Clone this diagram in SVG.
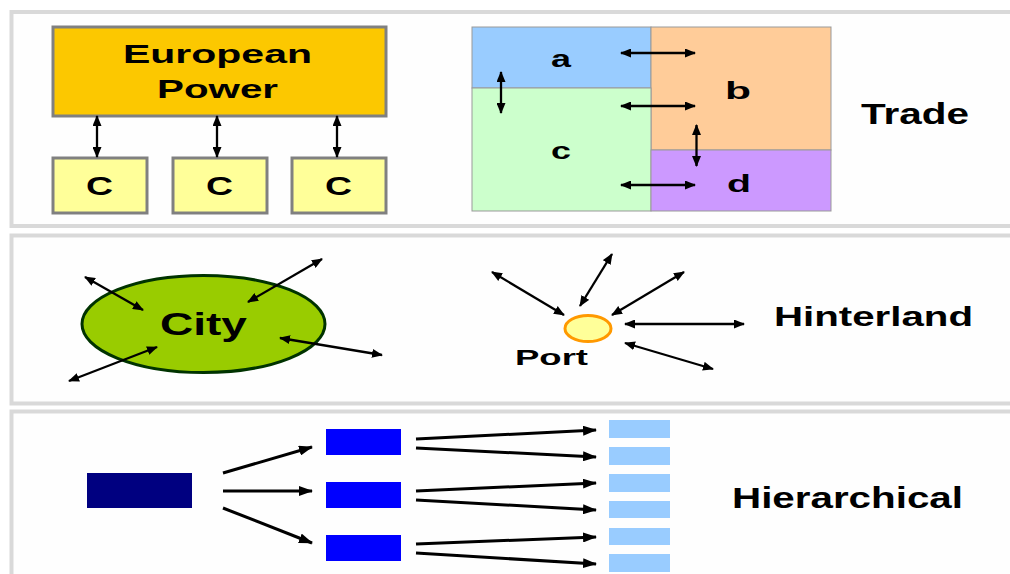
<svg xmlns="http://www.w3.org/2000/svg" width="1010" height="574" viewBox="0 0 1010 574">
<style>
.panel{fill:#fefefe;stroke:#d9d9d9;stroke-width:4}
.t{font-family:"Liberation Sans",Arial,sans-serif;font-weight:bold;fill:#000}
.box{stroke:#808080;stroke-width:3}
.cell{stroke:#999;stroke-width:1}
.dbl{stroke:#000;stroke-width:2.3;fill:none;marker-start:url(#ah);marker-end:url(#ah)}
.one{stroke:#000;stroke-width:3;fill:none;marker-end:url(#ah2)}
</style>
<defs>
<marker id="ah" viewBox="0 0 11 9" refX="10" refY="4.5" markerWidth="11" markerHeight="9" markerUnits="userSpaceOnUse" orient="auto-start-reverse"><path d="M0,0 L11,4.5 L0,9 z" fill="#000"/></marker>
<marker id="ah2" viewBox="0 0 14 10" refX="13" refY="5" markerWidth="14" markerHeight="10" markerUnits="userSpaceOnUse" orient="auto"><path d="M0,0 L14,5 L0,10 z" fill="#000"/></marker>
</defs>
<rect width="1010" height="574" fill="#fff"/>
<g id="panels">
<rect class="panel" x="11.5" y="12" width="1010" height="214"/>
<rect class="panel" x="11.5" y="235.5" width="1010" height="168"/>
<rect class="panel" x="11.5" y="411.5" width="1010" height="200"/>
</g>
<g id="european-power">
<rect class="box" x="53" y="27" width="333" height="89" fill="#fcc800"/>
<text class="t" x="123" y="63" font-size="26" textLength="189" lengthAdjust="spacingAndGlyphs">European</text>
<text class="t" x="157" y="98" font-size="26" textLength="121" lengthAdjust="spacingAndGlyphs">Power</text>
</g>
<g id="c1"><rect class="box" x="53" y="158" width="94" height="55" fill="#ffff99"/><text class="t" x="86" y="195" font-size="25" textLength="27" lengthAdjust="spacingAndGlyphs">C</text></g>
<g id="c2"><rect class="box" x="173" y="158" width="94" height="55" fill="#ffff99"/><text class="t" x="206" y="195" font-size="25" textLength="27" lengthAdjust="spacingAndGlyphs">C</text></g>
<g id="c3"><rect class="box" x="292" y="158" width="94" height="55" fill="#ffff99"/><text class="t" x="325" y="195" font-size="25" textLength="27" lengthAdjust="spacingAndGlyphs">C</text></g>
<g id="cell-a"><rect class="cell" x="472" y="27" width="179" height="61" fill="#99ccff"/><text class="t" x="551" y="67" font-size="24" textLength="20" lengthAdjust="spacingAndGlyphs">a</text></g>
<g id="cell-b"><rect class="cell" x="651" y="27" width="180" height="123" fill="#ffcc99"/><text class="t" x="725" y="99" font-size="24" textLength="26" lengthAdjust="spacingAndGlyphs">b</text></g>
<g id="cell-c"><rect class="cell" x="472" y="88" width="179" height="123" fill="#ccffcc"/><text class="t" x="551" y="159" font-size="24" textLength="20" lengthAdjust="spacingAndGlyphs">c</text></g>
<g id="cell-d"><rect class="cell" x="651" y="150" width="180" height="61" fill="#cc99ff"/><text class="t" x="727" y="192" font-size="24" textLength="24" lengthAdjust="spacingAndGlyphs">d</text></g>
<g id="trade-label"><text class="t" x="861" y="124" font-size="29" textLength="108" lengthAdjust="spacingAndGlyphs">Trade</text></g>
<g id="city">
<ellipse cx="203.5" cy="324" rx="121.5" ry="48.5" fill="#99cc00" stroke="#003300" stroke-width="3"/>
<text class="t" x="160" y="335" font-size="31" textLength="87" lengthAdjust="spacingAndGlyphs">City</text>
</g>
<g id="port">
<ellipse cx="588" cy="328.5" rx="23" ry="13" fill="#ffff99" stroke="#ff9900" stroke-width="3"/>
<text class="t" x="515" y="365" font-size="22" textLength="73" lengthAdjust="spacingAndGlyphs">Port</text>
</g>
<g id="hinterland-label"><text class="t" x="774" y="326" font-size="28" textLength="199" lengthAdjust="spacingAndGlyphs">Hinterland</text></g>
<g id="root"><rect x="87" y="473" width="105" height="35" fill="#000080"/></g>
<g id="mid1"><rect x="326" y="429" width="75" height="26" fill="#0000ff"/></g>
<g id="mid2"><rect x="326" y="482" width="75" height="26" fill="#0000ff"/></g>
<g id="mid3"><rect x="326" y="535" width="75" height="26" fill="#0000ff"/></g>
<g id="leaf1"><rect x="609" y="420" width="61" height="18" fill="#99ccff"/></g>
<g id="leaf2"><rect x="609" y="447" width="61" height="18" fill="#99ccff"/></g>
<g id="leaf3"><rect x="609" y="474" width="61" height="18" fill="#99ccff"/></g>
<g id="leaf4"><rect x="609" y="501" width="61" height="17" fill="#99ccff"/></g>
<g id="leaf5"><rect x="609" y="528" width="61" height="17" fill="#99ccff"/></g>
<g id="leaf6"><rect x="609" y="554" width="61" height="18" fill="#99ccff"/></g>
<g id="hierarchical-label"><text class="t" x="732" y="508" font-size="29" textLength="231" lengthAdjust="spacingAndGlyphs">Hierarchical</text></g>
<g id="connectors">
<line class="dbl" x1="97" y1="116" x2="97" y2="157"/>
<line class="dbl" x1="217" y1="116" x2="217" y2="157"/>
<line class="dbl" x1="337" y1="116" x2="337" y2="157"/>
<line class="dbl" x1="621" y1="53" x2="695" y2="53"/>
<line class="dbl" x1="501" y1="72" x2="501" y2="113"/>
<line class="dbl" x1="621" y1="106" x2="695" y2="106"/>
<line class="dbl" x1="696.5" y1="125" x2="696.5" y2="166"/>
<line class="dbl" x1="621" y1="185" x2="695" y2="185"/>
<line class="dbl" x1="85" y1="277" x2="143" y2="310"/>
<line class="dbl" x1="322" y1="259" x2="248" y2="302"/>
<line class="dbl" x1="280" y1="338" x2="382" y2="355"/>
<line class="dbl" x1="157" y1="347" x2="69" y2="381"/>
<line class="dbl" x1="492" y1="272" x2="564" y2="315"/>
<line class="dbl" x1="612" y1="254" x2="580" y2="306"/>
<line class="dbl" x1="684" y1="272" x2="612" y2="315"/>
<line class="dbl" x1="625" y1="324" x2="744" y2="324"/>
<line class="dbl" x1="625" y1="343" x2="713" y2="369"/>
<line class="one" x1="223" y1="473" x2="312" y2="447"/>
<line class="one" x1="223" y1="491" x2="312" y2="491"/>
<line class="one" x1="223" y1="508" x2="312" y2="543"/>
<line class="one" x1="416" y1="439" x2="596" y2="430"/>
<line class="one" x1="416" y1="448" x2="596" y2="457"/>
<line class="one" x1="416" y1="491" x2="596" y2="483"/>
<line class="one" x1="416" y1="500" x2="596" y2="510"/>
<line class="one" x1="416" y1="544" x2="596" y2="537"/>
<line class="one" x1="416" y1="553" x2="596" y2="564"/>
</g>
</svg>
